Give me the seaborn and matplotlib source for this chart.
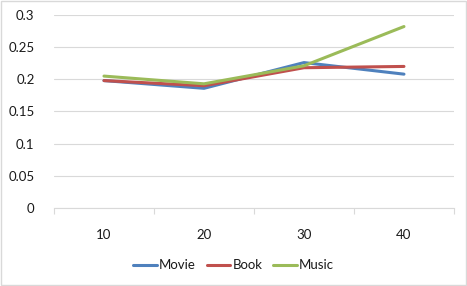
import pandas as pd
import seaborn as sns
import matplotlib.pyplot as plt

groups = [10, 20, 30, 40]
movie = [0.198, 0.186, 0.226, 0.208]
book = [0.198, 0.190, 0.218, 0.220]
music = [0.205, 0.193, 0.221, 0.282]
y_ticks = [0, 0.05, 0.1, 0.15, 0.2, 0.25, 0.3]
y_labels = ['0', '0.05', '0.1', '0.15', '0.2', '0.25', '0.3']

df = pd.DataFrame({'Group': groups, 'Movie': movie, 'Book': book, 'Music': music})
long = df.melt(id_vars='Group', var_name='Series', value_name='Value')

sns.set_theme(style='white')
plt.rcParams['font.family'] = ['Lato', 'DejaVu Sans']

fig = plt.figure(figsize=(4.67, 2.86), dpi=100)
ax = fig.add_axes([0.1156, 0.2727, 0.8565, 0.675])
palette = {'Movie': '#4F81BD', 'Book': '#C0504D', 'Music': '#9BBB59'}
sns.lineplot(data=long, x='Group', y='Value', hue='Series', palette=palette,
             linewidth=2.2, ax=ax, legend=False)

ax.set_xlim(5, 45)
ax.set_ylim(0, 0.3)
ax.set_yticks(y_ticks)
ax.set_yticklabels(y_labels)
ax.set_xticks(groups)
ax.set_xticklabels([str(g) for g in groups])
ax.set_xticks([5, 15, 25, 35, 45], minor=True)
ax.tick_params(axis='x', which='major', length=0, pad=15, labelsize=9.5, colors='#1a1a1a')
ax.tick_params(axis='x', which='minor', length=4, width=0.8, color='#D9D9D9', direction='out', bottom=True)
ax.tick_params(axis='y', length=0, pad=14, labelsize=9.5, colors='#1a1a1a')
ax.grid(axis='y', color='#D9D9D9', linewidth=0.8)
ax.set_axisbelow(True)
for side in ['top', 'right', 'left']:
    ax.spines[side].set_visible(False)
ax.spines['bottom'].set_color('#D9D9D9')
ax.spines['bottom'].set_linewidth(0.8)
ax.set_xlabel('')
ax.set_ylabel('')

handles = [plt.Line2D([], [], color=palette[s], linewidth=2.2) for s in ['Movie', 'Book', 'Music']]
fig.legend(handles, ['Movie', 'Book', 'Music'], loc='center', bbox_to_anchor=(0.5, 0.073),
           ncol=3, frameon=False, fontsize=9.5, labelcolor='#1a1a1a', handlelength=1.8,
           handletextpad=0.15, columnspacing=0.8)

fig.patches.append(plt.Rectangle((0.002, 0.003), 0.995, 0.993, transform=fig.transFigure,
                                 fill=False, edgecolor='#D9D9D9', linewidth=1))

fig.savefig('out.png', dpi=100)
